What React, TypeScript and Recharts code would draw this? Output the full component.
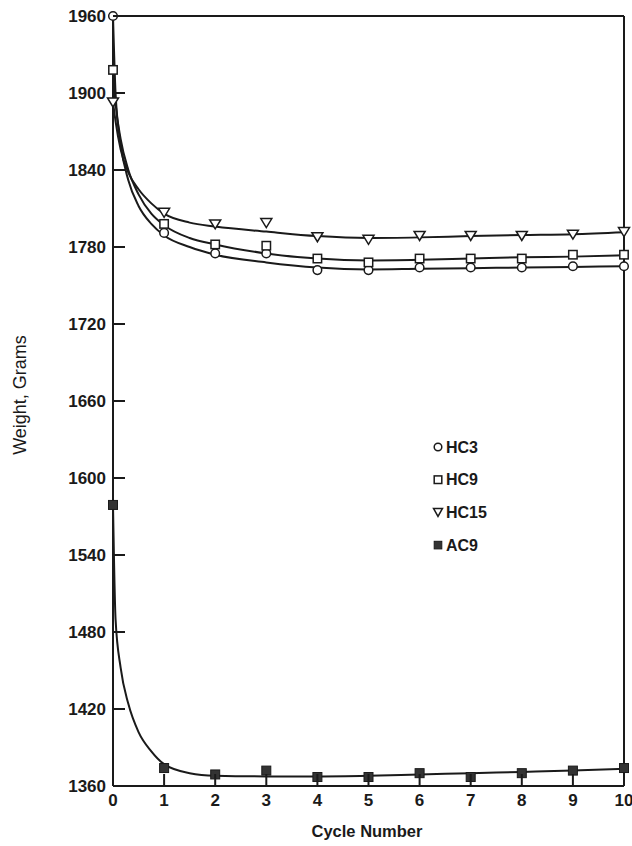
import React from 'react';
import { ComposedChart, Line, Scatter, XAxis, YAxis, ReferenceLine, Label } from 'recharts';

const cycles = [0, 1, 2, 3, 4, 5, 6, 7, 8, 9, 10];
const hc3 = [1960, 1791, 1775, 1775, 1762, 1762, 1764, 1764, 1764, 1765, 1765];
const hc9 = [1918, 1798, 1782, 1781, 1771, 1768, 1771, 1771, 1771, 1774, 1774];
const hc15 = [1893, 1807, 1798, 1799, 1788, 1786, 1789, 1789, 1789, 1790, 1792];
const ac9 = [1579, 1374, 1369, 1372, 1367, 1367, 1370, 1367, 1370, 1372, 1374];

const fitX = [0, 0.05, 0.15, 0.3, 0.5, 0.75, 1, 1.5, 2, 3, 4, 5, 6, 7, 8, 9, 10];
const hc3Fit = [1960, 1900, 1860, 1832, 1812, 1798, 1789, 1780, 1774, 1768, 1764, 1762.5, 1763, 1763.5, 1764, 1764.5, 1765];
const hc9Fit = [1918, 1892, 1864, 1840, 1821, 1806, 1797, 1787, 1782, 1775, 1771, 1769.5, 1770, 1771, 1772, 1772.5, 1773.5];
const hc15Fit = [1893, 1878, 1856, 1838, 1825, 1814, 1806, 1799, 1796, 1792, 1788.5, 1787, 1787.5, 1788.5, 1789.3, 1790, 1791.5];
const ac9Fit = [1579, 1490, 1452, 1424, 1402, 1387, 1377, 1370, 1368, 1367.5, 1367.5, 1368, 1369, 1370, 1371, 1372, 1373.5];

const yTicks = [1360, 1420, 1480, 1540, 1600, 1660, 1720, 1780, 1840, 1900, 1960];
const xTicks = cycles;
const legendNames = ['HC3', 'HC9', 'HC15', 'AC9'];

const FONT = '"Liberation Sans", Arial, Helvetica, sans-serif';
const INK = '#1a1a1a';

const toPoints = (xs: number[], ys: number[]) => xs.map((x, i) => ({ x, y: ys[i] }));

const CircleMark = (p: any) => (
  <circle cx={p.cx} cy={p.cy} r={4.3} fill="#fff" stroke={INK} strokeWidth={1.5} />
);
const SquareMark = (p: any) => (
  <rect x={p.cx - 4.2} y={p.cy - 4.2} width={8.4} height={8.4} fill="#fff" stroke={INK} strokeWidth={1.5} />
);
const TriMark = (p: any) => (
  <path d={`M${p.cx - 5.5},${p.cy - 4} L${p.cx + 5.5},${p.cy - 4} L${p.cx},${p.cy + 5} Z`} fill="#fff" stroke={INK} strokeWidth={1.5} />
);
const FilledMark = (p: any) => (
  <rect x={p.cx - 4.5} y={p.cy - 4.5} width={9} height={9} fill="#333" stroke={INK} strokeWidth={1} />
);

const YTick = (p: any) => (
  <g>
    <line x1={p.x + 7} y1={p.y} x2={p.x + 19} y2={p.y} stroke={INK} strokeWidth={2} />
    <text x={p.x} y={p.y} dy="0.36em" textAnchor="end" fontFamily={FONT} fontSize={17} fontWeight="bold" fill={INK}>
      {p.payload.value}
    </text>
  </g>
);

const XTick = (p: any) => (
  <g>
    <line x1={p.x} y1={p.y - 8} x2={p.x} y2={p.y - 20} stroke={INK} strokeWidth={2} />
    <text x={p.x} y={p.y} dy="0.71em" textAnchor="middle" fontFamily={FONT} fontSize={17} fontWeight="bold" fill={INK}>
      {p.payload.value}
    </text>
  </g>
);

const legendMarks = [
  (cx: number, cy: number) => <circle cx={cx} cy={cy} r={3.8} fill="#fff" stroke={INK} strokeWidth={1.5} />,
  (cx: number, cy: number) => <rect x={cx - 3.8} y={cy - 3.8} width={7.6} height={7.6} fill="#fff" stroke={INK} strokeWidth={1.5} />,
  (cx: number, cy: number) => <path d={`M${cx - 4.5},${cy - 4} L${cx + 4.5},${cy - 4} L${cx},${cy + 4} Z`} fill="#fff" stroke={INK} strokeWidth={1.5} />,
  (cx: number, cy: number) => <rect x={cx - 3.8} y={cy - 3.8} width={7.6} height={7.6} fill="#333" stroke={INK} strokeWidth={1} />,
];

const LegendBox = () => (
  <svg width={120} height={130} style={{ position: 'absolute', left: 430, top: 435 }}>
    {legendNames.map((n, i) => (
      <g key={n}>
        {legendMarks[i](8, 12 + i * 32.7)}
        <text x={16} y={12 + i * 32.7} dy="0.36em" fontFamily={FONT} fontSize={16} fontWeight="bold" fill={INK}>
          {n}
        </text>
      </g>
    ))}
  </svg>
);

export default function App() {
  return (
    <div style={{ position: 'absolute', left: 0, top: 0, width: 632, height: 846, background: '#fff' }}>
      <ComposedChart width={632} height={846} margin={{ top: 16, right: 8, bottom: 0, left: 0 }}>
        <XAxis
          type="number"
          dataKey="x"
          domain={[0, 10]}
          ticks={xTicks}
          interval={0}
          height={60}
          tickSize={0}
          tickMargin={8}
          tick={<XTick />}
          axisLine={{ stroke: INK, strokeWidth: 2 }}
        >
          <Label
            content={() => (
              <text x={367} y={837} textAnchor="middle" fontFamily={FONT} fontSize={16.5} fontWeight="bold" fill={INK}>
                Cycle Number
              </text>
            )}
          />
        </XAxis>
        <YAxis
          type="number"
          domain={[1360, 1960]}
          ticks={yTicks}
          interval={0}
          width={113}
          tickSize={0}
          tickMargin={7}
          tick={<YTick />}
          axisLine={{ stroke: INK, strokeWidth: 2 }}
        >
          <Label
            content={() => (
              <text x={26} y={395} transform="rotate(-90 26 395)" textAnchor="middle" fontFamily={FONT} fontSize={18} fill={INK}>
                Weight, Grams
              </text>
            )}
          />
        </YAxis>
        <ReferenceLine y={1960} stroke={INK} strokeWidth={2} />
        <ReferenceLine x={10} stroke={INK} strokeWidth={2} />
        <Line data={toPoints(fitX, hc3Fit)} dataKey="y" type="monotone" stroke={INK} strokeWidth={2} dot={false} isAnimationActive={false} legendType="none" />
        <Line data={toPoints(fitX, hc9Fit)} dataKey="y" type="monotone" stroke={INK} strokeWidth={2} dot={false} isAnimationActive={false} legendType="none" />
        <Line data={toPoints(fitX, hc15Fit)} dataKey="y" type="monotone" stroke={INK} strokeWidth={2} dot={false} isAnimationActive={false} legendType="none" />
        <Line data={toPoints(fitX, ac9Fit)} dataKey="y" type="monotone" stroke={INK} strokeWidth={2} dot={false} isAnimationActive={false} legendType="none" />
        <Scatter name="HC3" data={toPoints(cycles, hc3)} dataKey="y" shape={CircleMark} isAnimationActive={false} />
        <Scatter name="HC9" data={toPoints(cycles, hc9)} dataKey="y" shape={SquareMark} isAnimationActive={false} />
        <Scatter name="HC15" data={toPoints(cycles, hc15)} dataKey="y" shape={TriMark} isAnimationActive={false} />
        <Scatter name="AC9" data={toPoints(cycles, ac9)} dataKey="y" shape={FilledMark} isAnimationActive={false} />
      </ComposedChart>
      <LegendBox />
    </div>
  );
}
